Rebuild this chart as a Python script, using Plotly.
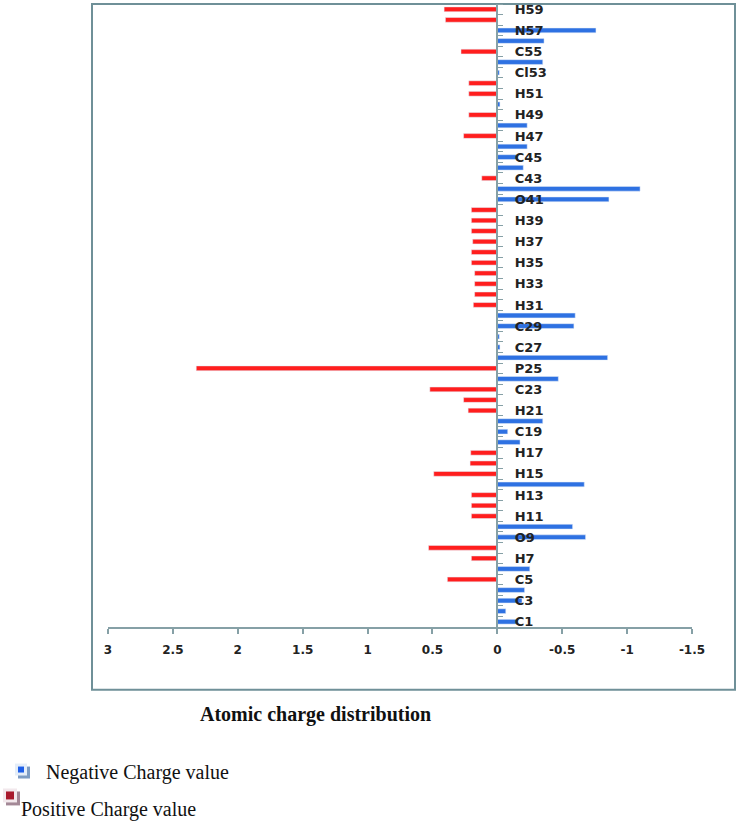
import plotly.graph_objects as go

atoms = ["C1", "C2", "C3", "C4", "C5", "C6", "H7", "C8", "O9", "C10",
         "H11", "H12", "H13", "C14", "H15", "H16", "H17", "C18", "C19", "C20",
         "H21", "H22", "C23", "C24", "P25", "C26", "C27", "C28", "C29", "C30",
         "H31", "H32", "H33", "H34", "H35", "H36", "H37", "H38", "H39", "H40",
         "O41", "C42", "C43", "C44", "C45", "C46", "H47", "C48", "H49", "C50",
         "H51", "H52", "Cl53", "C54", "C55", "C56", "N57", "H58", "H59"]

negative_charge = [-0.15, -0.065, -0.19, -0.21, None, -0.25, None, None, -0.68, -0.58,
                   None, None, None, -0.67, None, None, None, -0.175, -0.08, -0.35,
                   None, None, None, -0.47, None, -0.85, -0.02, -0.015, -0.59, -0.60,
                   None, None, None, None, None, None, None, None, None, None,
                   -0.86, -1.10, None, -0.20, -0.15, -0.23, None, -0.23, None, -0.02,
                   None, None, -0.015, -0.35, None, -0.36, -0.76, None, None]

positive_charge = [None, None, None, None, 0.385, None, 0.20, 0.53, None, None,
                   0.20, 0.20, 0.20, None, 0.49, 0.21, 0.205, None, None, None,
                   0.225, 0.26, 0.52, None, 2.32, None, None, None, None, None,
                   0.185, 0.175, 0.175, 0.175, 0.20, 0.20, 0.19, 0.20, 0.20, 0.20,
                   None, None, 0.12, None, None, None, 0.26, None, 0.22, None,
                   0.22, 0.22, None, None, 0.28, None, None, 0.40, 0.41]

x_ticks = [3, 2.5, 2, 1.5, 1, 0.5, 0, -0.5, -1, -1.5]
x_tick_labels = ["3", "2.5", "2", "1.5", "1", "0.5", "0", "-0.5", "-1", "-1.5"]

positions = list(range(1, len(atoms) + 1))
label_pos = positions[::2]
label_txt = atoms[::2]

W, H = 738, 822
ML, MR, MT, MB = 108, 46, 2, 195
PW, PH = W - ML - MR, H - MT - MB


def px(x):
    return (x - ML) / PW


def py(y):
    return (H - MB - y) / PH


fig = go.Figure()
fig.add_trace(go.Bar(y=positions, x=negative_charge, orientation="h",
                     name="Negative Charge value", marker_color="#2E71E2",
                     width=0.45, showlegend=False))
fig.add_trace(go.Bar(y=positions, x=positive_charge, orientation="h",
                     name="Positive Charge value", marker_color="#FF1E1E",
                     width=0.45, showlegend=False))

axis_col = "#86A0A6"
fig.update_layout(
    width=W, height=H,
    margin=dict(l=ML, r=MR, t=MT, b=MB),
    paper_bgcolor="white", plot_bgcolor="white",
    barmode="overlay",
    xaxis=dict(range=[3, -1.5], tickvals=x_ticks, ticktext=x_tick_labels,
               showgrid=False, zeroline=False, showline=True,
               linecolor=axis_col, linewidth=1.5,
               ticks="outside", ticklen=5, tickcolor=axis_col, tickwidth=1.5,
               tickfont=dict(family="DejaVu Sans", size=12, color="#222222",
                             weight="bold"),
               ticklabelstandoff=6),
    yaxis=dict(range=[0.5, len(atoms) + 0.5], anchor="free",
               position=3 / 4.5, side="right",
               tickvals=label_pos, ticktext=label_txt,
               showgrid=False, zeroline=False, showline=True,
               linecolor=axis_col, linewidth=1.5, ticks="",
               tickfont=dict(family="DejaVu Sans", size=13, color="#222222",
                             weight="bold"),
               ticklabelstandoff=14, ticklabeloverflow="allow",
               minor=dict(ticks="outside", tick0=0.5, dtick=1, ticklen=5,
                          tickcolor=axis_col, tickwidth=1, showgrid=False)),
)

shapes = []
# outer frame
shapes.append(dict(type="rect", xref="paper", yref="paper",
                   x0=px(92), x1=px(735), y0=py(690), y1=py(2),
                   line=dict(color="#6F9098", width=2), fillcolor="rgba(0,0,0,0)",
                   layer="below"))
# legend icons
shapes += [
    dict(type="rect", xref="paper", yref="paper", x0=px(18), x1=px(30),
         y0=py(779), y1=py(767), line=dict(width=0), fillcolor="#7E9CC2"),
    dict(type="rect", xref="paper", yref="paper", x0=px(15), x1=px(27),
         y0=py(776), y1=py(764), line=dict(width=0), fillcolor="#E4EDF8"),
    dict(type="rect", xref="paper", yref="paper", x0=px(18), x1=px(24),
         y0=py(773), y1=py(767), line=dict(width=0), fillcolor="#1F5FE8"),
    dict(type="rect", xref="paper", yref="paper", x0=px(6), x1=px(20),
         y0=py(806), y1=py(792), line=dict(width=0), fillcolor="#A38896"),
    dict(type="rect", xref="paper", yref="paper", x0=px(3), x1=px(17),
         y0=py(803), y1=py(789), line=dict(width=0), fillcolor="#F2E8EC"),
    dict(type="rect", xref="paper", yref="paper", x0=px(6), x1=px(14),
         y0=py(800), y1=py(792), line=dict(width=0), fillcolor="#A8192C"),
]
fig.update_layout(shapes=shapes)

fig.add_annotation(xref="paper", yref="paper", x=px(315), y=py(715),
                   text="<b>Atomic charge distribution</b>", showarrow=False,
                   font=dict(family="Liberation Serif", size=20, color="#111111"),
                   xanchor="center", yanchor="middle")
fig.add_annotation(xref="paper", yref="paper", x=px(44), y=py(773),
                   text="Negative Charge value", showarrow=False,
                   font=dict(family="Liberation Serif", size=20, color="#111111"),
                   xanchor="left", yanchor="middle")
fig.add_annotation(xref="paper", yref="paper", x=px(19), y=py(810),
                   text="Positive Charge value", showarrow=False,
                   font=dict(family="Liberation Serif", size=20, color="#111111"),
                   xanchor="left", yanchor="middle")

fig.write_html("out.html",
               config={"displayModeBar": False},
               post_script="document.body.style.margin='0';"
                           "document.body.style.padding='0';"
                           "document.documentElement.style.overflow='hidden';")
